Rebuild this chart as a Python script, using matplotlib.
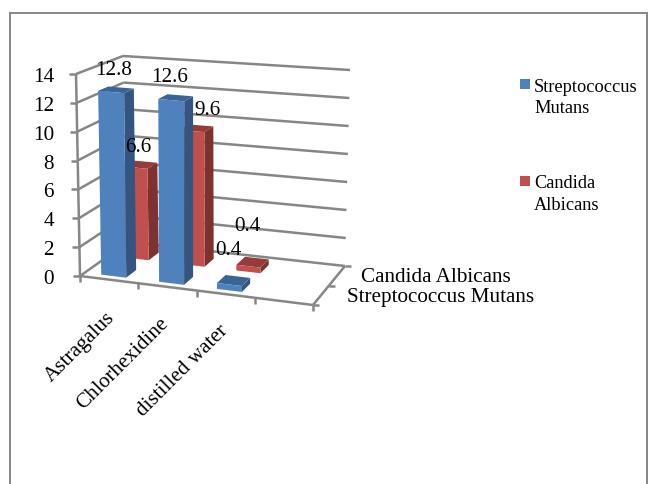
import numpy as np
import matplotlib
matplotlib.use('Agg')
import matplotlib.pyplot as plt
from matplotlib.patches import Polygon, Rectangle

categories = ['Astragalus', 'Chlorhexidine', 'distilled water', '']
series_names = ['Streptococcus Mutans', 'Candida Albicans']
strep_values = [12.8, 12.6, 0.4]
candida_values = [6.6, 9.6, 0.4]
value_ticks = [0, 2, 4, 6, 8, 10, 12, 14]

VMAX = 14.0
GRID = '#868686'
# colores: frente, lado, topo
BLUE = ('#4F81BD', '#34557F', '#3A6496')
RED = ('#C0504D', '#7D3230', '#953B39')
FS = 15.2

# cantos da caixa 3D em pixels da imagem: [u][d][v]
CORNERS = np.array([
    [[(80, 277), (76, 75)], [(128, 243), (123, 57)]],
    [[(313, 306), (319, 96)], [(345, 267), (350, 71)]],
], dtype=float)


def project(u, d, v):
    """Projeta categoria (u), profundidade (d) e valor (v) para pixels"""
    w = v / VMAX
    p = 0
    for i, wu in enumerate((1 - u, u)):
        for j, wd in enumerate((1 - d, d)):
            for k, wv in enumerate((1 - w, w)):
                p = p + wu * wd * wv * CORNERS[i, j, k]
    return p


def bar_center(cat, row):
    return (cat + 0.5) / len(categories), (row + 0.5) / len(series_names) - 0.04


def draw_bar(ax, cat, row, value, colors):
    """Desenha uma barra 3D: frente, lado direito e topo"""
    uc, dc = bar_center(cat, row)
    u0, u1 = uc - 0.054, uc + 0.054
    d0, d1 = dc - 0.11, dc + 0.11
    front = [project(u0, d0, 0), project(u1, d0, 0), project(u1, d0, value), project(u0, d0, value)]
    side = [project(u1, d0, 0), project(u1, d1, 0), project(u1, d1, value), project(u1, d0, value)]
    top = [project(u0, d0, value), project(u1, d0, value), project(u1, d1, value), project(u0, d1, value)]
    ax.add_patch(Polygon(side, closed=True, fc=colors[1], ec='none', zorder=3))
    ax.add_patch(Polygon(top, closed=True, fc=colors[2], ec='none', zorder=3))
    ax.add_patch(Polygon(front, closed=True, fc=colors[0], ec='none', zorder=3))


def segment(ax, a, b, lw=1.8):
    ax.plot([a[0], b[0]], [a[1], b[1]], color=GRID, lw=lw, solid_capstyle='butt', zorder=2)


plt.rcParams['font.family'] = ['Liberation Serif', 'DejaVu Serif']

fig = plt.figure(figsize=(6.48, 4.85), dpi=100)
ax = fig.add_axes([0, 0, 1, 1])
ax.set_xlim(0, 648)
ax.set_ylim(485, 0)
ax.axis('off')

# moldura do grafico (sem borda inferior visivel)
ax.add_patch(Rectangle((9.5, 13.5), 637, 480, fc='white', ec=GRID, lw=1.4, zorder=1))

# paredes e piso
for v in value_ticks:
    segment(ax, project(0, 0, v), project(0, 1, v))
    segment(ax, project(0, 1, v), project(1, 1, v))
    tick = project(0, 0, v)
    segment(ax, tick, tick + np.array([-7, 0]))
    ax.text(54, tick[1] + 2.5, str(v), ha='right', va='center', fontsize=FS, color='black', zorder=5)
segment(ax, project(0, 0, 0), project(0, 0, VMAX))
segment(ax, project(0, 0, 0), project(1, 0, 0))
segment(ax, project(1, 0, 0), project(1, 1, 0))

# marcas dos eixos de categoria e profundidade
for i in range(len(categories) + 1):
    p = project(i / len(categories), 0, 0)
    segment(ax, p, p + np.array([0, 6]))
for j in range(len(series_names) + 1):
    p = project(1, j / len(series_names), 0)
    segment(ax, p, p + np.array([6, 0]))

# barras: serie de tras primeiro
for i, val in enumerate(candida_values):
    draw_bar(ax, i, 1, val, RED)
for i, val in enumerate(strep_values):
    draw_bar(ax, i, 0, val, BLUE)

# rotulos de dados, deslocados do topo de cada barra
strep_offsets = [(-3, -20), (-6, -21), (-5, -31)]
candida_offsets = [(-2, -18), (11, -19), (-5, -37)]
for i, (val, off) in enumerate(zip(strep_values, strep_offsets)):
    p = project(*bar_center(i, 0), val)
    ax.text(p[0] + off[0], p[1] + off[1], str(val), ha='center', va='center', fontsize=FS, zorder=6)
for i, (val, off) in enumerate(zip(candida_values, candida_offsets)):
    p = project(*bar_center(i, 1), val)
    ax.text(p[0] + off[0], p[1] + off[1], str(val), ha='center', va='center', fontsize=FS, zorder=6)

# rotulos das categorias
cat_anchor = [(105, 309), (159, 314), (219, 322)]
for name, (x, y) in zip(categories, cat_anchor):
    ax.text(x, y, name, rotation=45, ha='right', va='top', rotation_mode='anchor', fontsize=FS, zorder=5)

# rotulos de profundidade
ax.text(361, 278, series_names[1], ha='left', va='center', fontsize=FS, zorder=5)
ax.text(347, 298, series_names[0], ha='left', va='center', fontsize=FS, zorder=5)

# legenda
for name, color, y in zip(series_names, (BLUE[0], RED[0]), (85, 182)):
    ax.add_patch(Rectangle((520, y - 5), 10, 10, fc=color, ec='none', zorder=5))
    first, second = name.split(' ')
    ax.text(534, y + 2, first, ha='left', va='center', fontsize=13.2, zorder=5)
    ax.text(534, y + 23.5, second, ha='left', va='center', fontsize=13.2, zorder=5)

fig.savefig('out.png', dpi=100)
